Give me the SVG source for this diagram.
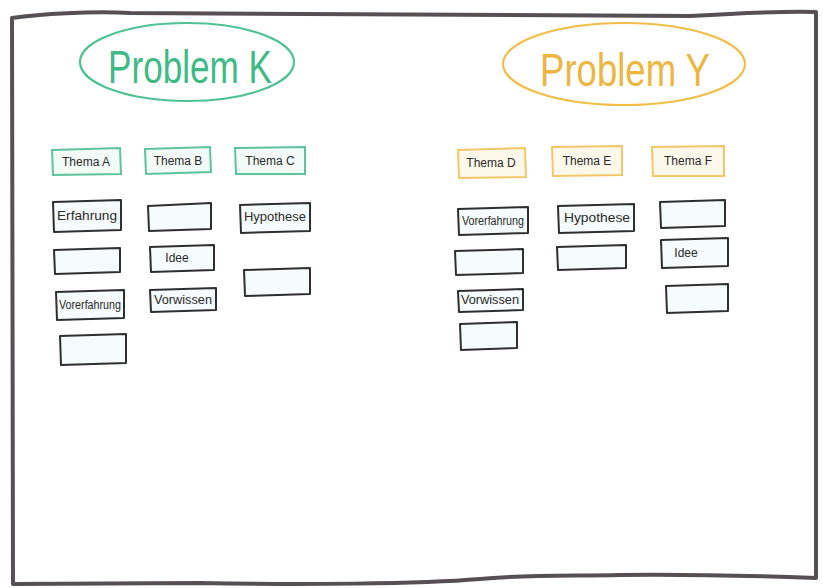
<svg xmlns="http://www.w3.org/2000/svg" width="823" height="588" viewBox="0 0 823 588">
<defs>
<style>
.frame{fill:#ffffff;stroke:#564f54;stroke-width:4;stroke-linejoin:round}
.ellG{fill:none;stroke:#4fc293;stroke-width:2.2}
.ellY{fill:none;stroke:#f0bd45;stroke-width:2.2}
.titleG{font-family:"Liberation Sans",Arial,sans-serif;font-size:46px;fill:#3dba86}
.titleY{font-family:"Liberation Sans",Arial,sans-serif;font-size:46px;fill:#ecb640}
.hG{fill:#f3fbf8;stroke:#5cc49c;stroke-width:2}
.hY{fill:#fdf8ea;stroke:#f2c768;stroke-width:2}
.box{fill:#f6fbfb;stroke:#2f2f2f;stroke-width:2;stroke-linejoin:round}
.lbl{font-family:"Liberation Sans",Arial,sans-serif;font-size:12px;fill:#2a2a2a;text-anchor:middle;dominant-baseline:central}
</style>
</defs>
<rect width="823" height="588" fill="#ffffff"/>
<path class="frame" d="M12,18 C40,14 90,11 130,13 L690,16 C740,13 780,11 816,12 L816,578 C760,576 700,574 620,575 C560,576 520,575 480,579 C420,584 300,585 200,583 L13,584 Z"/>

<g id="problem-k">
<ellipse class="ellG" cx="187" cy="62" rx="107" ry="39"/>
<text class="titleG" x="108" y="83" textLength="164" lengthAdjust="spacingAndGlyphs">Problem K</text>
</g>
<g id="problem-y">
<ellipse class="ellY" cx="624" cy="64" rx="121" ry="41"/>
<text class="titleY" x="540" y="86" textLength="170" lengthAdjust="spacingAndGlyphs">Problem Y</text>
</g>

<g id="thema-a"><path class="hG" d="M52,150 L120,148 L121,174 L53,175 Z"/><text class="lbl" x="86" y="162">Thema A</text></g>
<g id="thema-b"><path class="hG" d="M145,149 L210,147 L211,172 L146,174 Z"/><text class="lbl" x="178" y="161">Thema B</text></g>
<g id="thema-c"><path class="hG" d="M235,148 L305,147 L305,174 L236,174 Z"/><text class="lbl" x="270" y="161">Thema C</text></g>
<g id="thema-d"><path class="hY" d="M458,150 L525,148 L526,177 L459,178 Z"/><text class="lbl" x="491" y="163">Thema D</text></g>
<g id="thema-e"><path class="hY" d="M552,147 L622,146 L622,175 L553,176 Z"/><text class="lbl" x="587" y="161">Thema E</text></g>
<g id="thema-f"><path class="hY" d="M652,147 L724,146 L724,176 L653,176 Z"/><text class="lbl" x="688" y="161">Thema F</text></g>

<g id="a-erfahrung"><path class="box" d="M53,202 L121,200 L121,230 L54,232 Z"/><text class="lbl" x="87" y="216" textLength="60" lengthAdjust="spacingAndGlyphs">Erfahrung</text></g>
<g id="a-empty1"><path class="box" d="M54,250 L120,248 L120,272 L55,274 Z"/></g>
<g id="a-vorerfahrung"><path class="box" d="M56,292 L124,290 L124,318 L57,320 Z"/><text class="lbl" x="90" y="305" textLength="62" lengthAdjust="spacingAndGlyphs">Vorerfahrung</text></g>
<g id="a-empty2"><path class="box" d="M60,336 L126,334 L126,363 L61,365 Z"/></g>

<g id="b-empty1"><path class="box" d="M148,206 L211,203 L211,229 L149,231 Z"/></g>
<g id="b-idee"><path class="box" d="M150,247 L214,245 L214,270 L151,272 Z"/><text class="lbl" x="177" y="258">Idee</text></g>
<g id="b-vorwissen"><path class="box" d="M150,290 L216,288 L216,310 L151,312 Z"/><text class="lbl" x="183" y="300" textLength="58" lengthAdjust="spacingAndGlyphs">Vorwissen</text></g>

<g id="c-hypothese"><path class="box" d="M240,205 L310,203 L310,231 L241,233 Z"/><text class="lbl" x="275" y="217" textLength="62" lengthAdjust="spacingAndGlyphs">Hypothese</text></g>
<g id="c-empty1"><path class="box" d="M244,270 L310,268 L310,294 L245,296 Z"/></g>

<g id="d-vorerfahrung"><path class="box" d="M458,209 L528,207 L528,233 L459,235 Z"/><text class="lbl" x="493" y="221" textLength="62" lengthAdjust="spacingAndGlyphs">Vorerfahrung</text></g>
<g id="d-empty1"><path class="box" d="M455,251 L523,249 L523,273 L456,275 Z"/></g>
<g id="d-vorwissen"><path class="box" d="M458,291 L523,289 L523,310 L459,312 Z"/><text class="lbl" x="490" y="300" textLength="58" lengthAdjust="spacingAndGlyphs">Vorwissen</text></g>
<g id="d-empty2"><path class="box" d="M460,324 L517,322 L517,348 L461,350 Z"/></g>

<g id="e-hypothese"><path class="box" d="M558,206 L634,204 L634,231 L559,233 Z"/><text class="lbl" x="597" y="218" textLength="66" lengthAdjust="spacingAndGlyphs">Hypothese</text></g>
<g id="e-empty1"><path class="box" d="M557,247 L626,245 L626,268 L558,270 Z"/></g>

<g id="f-empty1"><path class="box" d="M660,202 L725,200 L725,226 L661,228 Z"/></g>
<g id="f-idee"><path class="box" d="M661,240 L728,238 L728,266 L662,268 Z"/><text class="lbl" x="686" y="253">Idee</text></g>
<g id="f-empty2"><path class="box" d="M666,286 L728,284 L728,311 L667,313 Z"/></g>
</svg>
